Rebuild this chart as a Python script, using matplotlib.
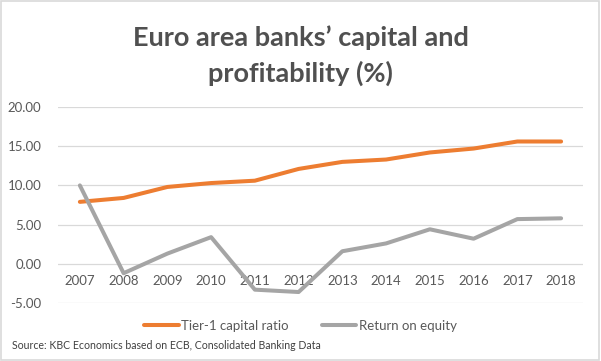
import matplotlib
matplotlib.use("Agg")
import matplotlib.pyplot as plt
from matplotlib.patches import Rectangle

years = ["2007", "2008", "2009", "2010", "2011", "2012",
         "2013", "2014", "2015", "2016", "2017", "2018"]
tier1 = [7.9, 8.4, 9.8, 10.3, 10.6, 12.1, 13.0, 13.3, 14.2, 14.7, 15.6, 15.6]
roe = [10.0, -1.2, 1.3, 3.4, -3.3, -3.6, 1.6, 2.6, 4.4, 3.2, 5.7, 5.8]

plt.rcParams["font.family"] = ["Lato", "DejaVu Sans"]

fig = plt.figure(figsize=(6.01, 3.61), dpi=100)
ax = fig.add_axes([0.0965, 0.1607, 0.8735, 0.5429])

x = list(range(len(years)))
ax.plot(x, tier1, color="#ED7D31", lw=2.9, solid_capstyle="round", label="Tier-1 capital ratio")
ax.plot(x, roe, color="#A5A5A5", lw=2.9, solid_capstyle="round", label="Return on equity")

ax.set_xlim(-0.5, 11.5)
ax.set_ylim(-5, 20)
ax.set_yticks([-5, 0, 5, 10, 15, 20])
ax.set_yticklabels([f"{v:.2f}" for v in [-5, 0, 5, 10, 15, 20]])
ax.set_xticks(x)
ax.set_xticklabels(years)
ax.grid(axis="y", color="#D9D9D9", lw=0.9)
ax.set_axisbelow(True)

for s in ["top", "right", "left"]:
    ax.spines[s].set_visible(False)
ax.spines["bottom"].set_position(("data", 0))
ax.spines["bottom"].set_visible(False)
ax.tick_params(axis="both", length=0, colors="#595959", labelsize=9.5)
ax.tick_params(axis="y", pad=12)
ax.tick_params(axis="x", pad=8)

fig.text(0.5, 0.895, "Euro area banks\u2019 capital and", ha="center", va="center",
         fontsize=19.5, fontweight="bold", color="#505050")
fig.text(0.5, 0.797, "profitability (%)", ha="center", va="center",
         fontsize=19.5, fontweight="bold", color="#505050")

fig.legend(loc="center", bbox_to_anchor=(0.5, 0.098), ncol=2, frameon=False,
           fontsize=9.5, labelcolor="#595959", handlelength=2.6, columnspacing=2.5,
           handletextpad=0.2)

fig.text(0.02, 0.042, "Source: KBC Economics based on ECB, Consolidated Banking Data",
         ha="left", va="center", fontsize=7.6, color="#404040")

fig.patches.append(Rectangle((0.002, 0.003), 0.995, 0.993, transform=fig.transFigure,
                             fill=False, edgecolor="#D9D9D9", lw=1.2))

fig.savefig("out.png", dpi=100)
